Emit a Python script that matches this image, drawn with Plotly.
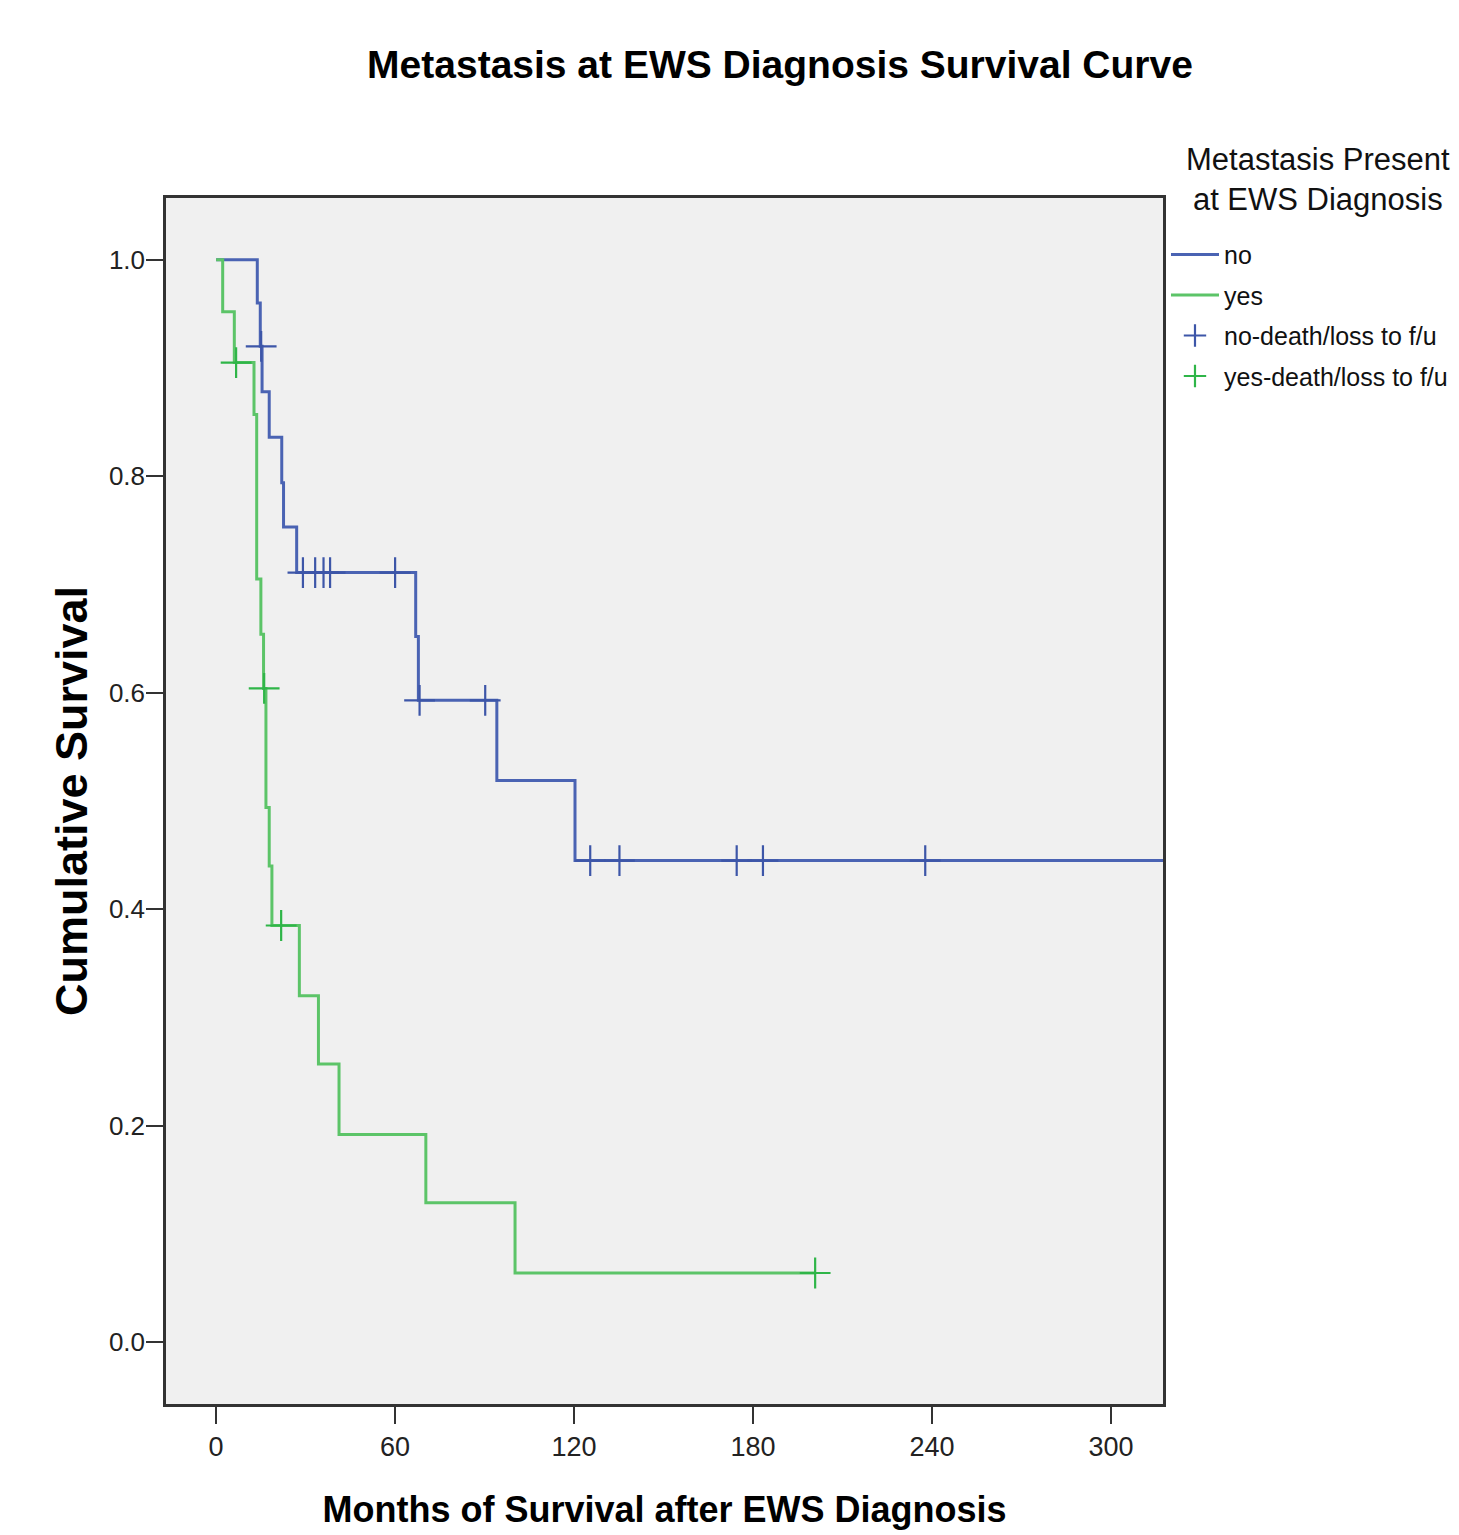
import plotly.graph_objects as go

# ---- data ----
no_t = [0, 13.8, 14.8, 15.4, 17.8, 22.0, 22.6, 27.0, 66.9, 67.8, 94.1, 120.3, 325.0]
no_s = [1.0, 0.960, 0.920, 0.878, 0.836, 0.794, 0.753, 0.711, 0.652, 0.593, 0.519, 0.445, 0.445]
no_cens_t = [15.1, 29.1, 33.2, 36.0, 38.2, 60.0, 68.2, 90.2, 125.4, 135.2, 174.5, 183.3, 237.7, 325.0]
no_cens_s = [0.920, 0.711, 0.711, 0.711, 0.711, 0.711, 0.593, 0.593, 0.445, 0.445, 0.445, 0.445, 0.445, 0.445]

yes_t = [0, 2.2, 6.1, 12.7, 13.6, 15.0, 15.9, 16.7, 17.8, 18.7, 27.9, 34.3, 41.2, 70.3, 100.2, 200.8]
yes_s = [1.0, 0.952, 0.905, 0.857, 0.705, 0.654, 0.604, 0.494, 0.440, 0.385, 0.320, 0.257, 0.192, 0.129, 0.064, 0.064]
yes_cens_t = [6.7, 16.1, 21.8, 200.8]
yes_cens_s = [0.905, 0.604, 0.385, 0.064]

x_ticks = [0, 60, 120, 180, 240, 300]
y_ticks = [0.0, 0.2, 0.4, 0.6, 0.8, 1.0]
y_tick_text = ["0.0", "0.2", "0.4", "0.6", "0.8", "1.0"]

BLUE = "#4a63b3"
GREEN = "#5cc468"
BLUE_M = "#3d56a8"
GREEN_M = "#2fb548"
FONT = "Liberation Sans, Arial, sans-serif"

# page body has an 8px margin: figure is sized so it fills the 1459x1535 window
W, H = 1451, 1527

fig = go.Figure()
fig.add_trace(go.Scatter(x=no_t, y=no_s, mode="lines", line=dict(color=BLUE, width=3, shape="hv"),
                         name="no", legendgroup="a"))
fig.add_trace(go.Scatter(x=yes_t, y=yes_s, mode="lines", line=dict(color=GREEN, width=3, shape="hv"),
                         name="yes", legendgroup="b"))
fig.add_trace(go.Scatter(x=no_cens_t, y=no_cens_s, mode="markers",
                         marker=dict(symbol="cross-thin", size=22, line=dict(color=BLUE_M, width=2.2)),
                         name="no-death/loss to f/u", legendgroup="c"))
fig.add_trace(go.Scatter(x=yes_cens_t, y=yes_cens_s, mode="markers",
                         marker=dict(symbol="cross-thin", size=22, line=dict(color=GREEN_M, width=2.2)),
                         name="yes-death/loss to f/u", legendgroup="d"))

fig.update_layout(
    width=W, height=H,
    margin=dict(l=158, r=296, t=190, b=131, autoexpand=False),
    paper_bgcolor="white", plot_bgcolor="#f0f0f0",
    font=dict(family=FONT, color="#111", size=27),
    title=dict(text="<b>Metastasis at EWS Diagnosis Survival Curve</b>",
               x=(780 - 8) / W, xref="container", xanchor="center",
               y=1 - 56.5 / H, yref="container", yanchor="middle",
               font=dict(family=FONT, size=39, color="#000")),
    showlegend=True,
    legend=dict(
        x=1.003, xanchor="left", y=0.972, yanchor="top",
        bgcolor="rgba(0,0,0,0)",
        font=dict(family=FONT, size=25, color="#111"),
        itemwidth=48, tracegroupgap=5, traceorder="grouped",
    ),
    annotations=[dict(
        text="Metastasis Present<br>at EWS Diagnosis",
        x=(1318 - 166) / 997, xref="paper", xanchor="center",
        y=(1404 - 179) / 1206, yref="paper", yanchor="middle",
        showarrow=False, align="center",
        font=dict(family=FONT, size=31, color="#111"),
    )],
)

fig.update_xaxes(
    range=[-16.8, 317.4], tickvals=x_ticks, ticktext=[str(v) for v in x_ticks],
    showgrid=False, zeroline=False, automargin=False,
    showline=True, mirror=True, linecolor="#333", linewidth=2.5,
    ticks="outside", ticklen=17, tickwidth=2, tickcolor="#333",
    ticklabelstandoff=0,
    tickfont=dict(family=FONT, size=27, color="#222"),
    title=dict(text="<b>Months of Survival after EWS Diagnosis</b>", standoff=36,
               font=dict(family=FONT, size=36, color="#000")),
)
fig.update_yaxes(
    range=[-0.057, 1.057], tickvals=y_ticks, ticktext=y_tick_text,
    showgrid=False, zeroline=False, automargin=False,
    showline=True, mirror=True, linecolor="#333", linewidth=2.5,
    ticks="outside", ticklen=17, tickwidth=2, tickcolor="#333",
    ticklabelstandoff=-4,
    tickfont=dict(family=FONT, size=26, color="#222"),
    title=dict(text="<b>Cumulative Survival</b>", standoff=8,
               font=dict(family=FONT, size=45, color="#000")),
)

fig.write_html("out.html")
